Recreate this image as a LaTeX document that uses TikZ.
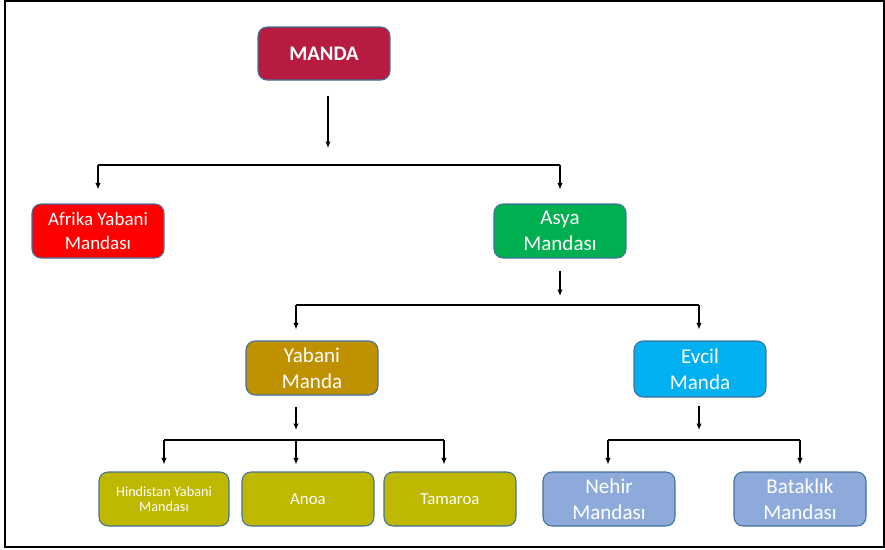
\documentclass[tikz,border=0pt]{standalone}
\usepackage{fontspec}
\setmainfont{Carlito}
\usetikzlibrary{arrows.meta}

\definecolor{boxline}{RGB}{65,113,156}
\definecolor{mandared}{RGB}{183,28,64}
\definecolor{afrikared}{RGB}{255,0,0}
\definecolor{asyagreen}{RGB}{0,176,80}
\definecolor{yabanigold}{RGB}{191,144,0}
\definecolor{evcilblue}{RGB}{0,176,240}
\definecolor{leafolive}{RGB}{191,184,0}
\definecolor{leafblue}{RGB}{142,170,219}

\tikzset{
    box/.style={draw=boxline, line width=0.6pt, rounded corners=0.18cm,
        minimum width=2.64cm, minimum height=1.08cm, inner sep=1pt,
        text=white, align=center},
    big/.style={font=\fontsize{12}{14.6}\selectfont},
    arr/.style={-{Latex[length=0.13cm,width=0.11cm]}, line width=0.7pt},
    link/.style={line width=0.7pt}
}

\begin{document}
\begin{tikzpicture}[x=0.02cm,y=-0.02cm]
\useasboundingbox (0,0) rectangle (885,549);
\draw[line width=1pt] (5,1) rectangle (884,547);

\begin{scope}[every node/.style={box}]
    \node[fill=mandared, font=\bfseries\fontsize{11.8}{14}\selectfont, minimum height=1.06cm] (manda) at (324,53.5) {MANDA};

    \node[fill=afrikared, font=\fontsize{10.8}{14}\selectfont] (afrika) at (98,231) {Afrika Yabani\\Mandası};
    \node[fill=asyagreen, big] (asya) at (560,231) {Asya\\Mandası};

    \node[fill=yabanigold, big] (yabani) at (312,368) {Yabani\\Manda};
    \node[fill=evcilblue, big, minimum height=1.12cm] (evcil) at (700,369) {Evcil\\Manda};

    \node[fill=leafolive, font=\fontsize{8.1}{8.8}\selectfont, minimum width=2.6cm] (hindistan) at (164,499) {Hindistan Yabani\\Mandası};
    \node[fill=leafolive, font=\fontsize{9.6}{11}\selectfont] (anoa) at (308,499) {Anoa};
    \node[fill=leafolive, font=\fontsize{9.6}{11}\selectfont] (tamaroa) at (450,499) {Tamaroa};

    \node[fill=leafblue, big] (nehir) at (609,499) {Nehir\\Mandası};
    \node[fill=leafblue, big] (bataklik) at (800,499) {Bataklık\\Mandası};
\end{scope}

% branch points
\coordinate (j0) at (328,165);
\coordinate (r1) at (98,165);
\coordinate (r2) at (560,165);
\coordinate (j1) at (560,305);
\coordinate (s1) at (296,305);
\coordinate (s2) at (699,305);
\coordinate (j2) at (296,440);
\coordinate (t1) at (164,440);
\coordinate (t3) at (444,440);
\coordinate (j3) at (699,440);
\coordinate (u1) at (608,440);
\coordinate (u2) at (800,440);

% MANDA
\draw[arr, shorten <=0.3cm, shorten >=0.34cm] (manda.south -| j0) -- (j0);
\draw[link] (r1) -- (r2);
\draw[arr, shorten >=0.28cm] (r1) -- (afrika.north);
\draw[arr, shorten >=0.28cm] (r2) -- (asya.north);

% Asya Mandasi
\draw[arr, shorten <=0.24cm, shorten >=0.18cm] (asya.south -| j1) -- (j1);
\draw[link] (s1) -- (s2);
\draw[arr, shorten >=0.22cm] (s1) -- (s1 |- yabani.north);
\draw[arr, shorten >=0.22cm] (s2) -- (s2 |- evcil.north);

% Yabani Manda
\draw[arr, shorten <=0.22cm, shorten >=0.2cm] (yabani.south -| j2) -- (j2);
\draw[link] (t1) -- (t3);
\draw[arr, shorten >=0.14cm] (t1) -- (hindistan.north);
\draw[arr, shorten >=0.14cm] (j2) -- (j2 |- anoa.north);
\draw[arr, shorten >=0.14cm] (t3) -- (t3 |- tamaroa.north);

% Evcil Manda
\draw[arr, shorten <=0.16cm, shorten >=0.2cm] (evcil.south -| j3) -- (j3);
\draw[link] (u1) -- (u2);
\draw[arr, shorten >=0.14cm] (u1) -- (u1 |- nehir.north);
\draw[arr, shorten >=0.14cm] (u2) -- (bataklik.north);

\end{tikzpicture}
\end{document}
